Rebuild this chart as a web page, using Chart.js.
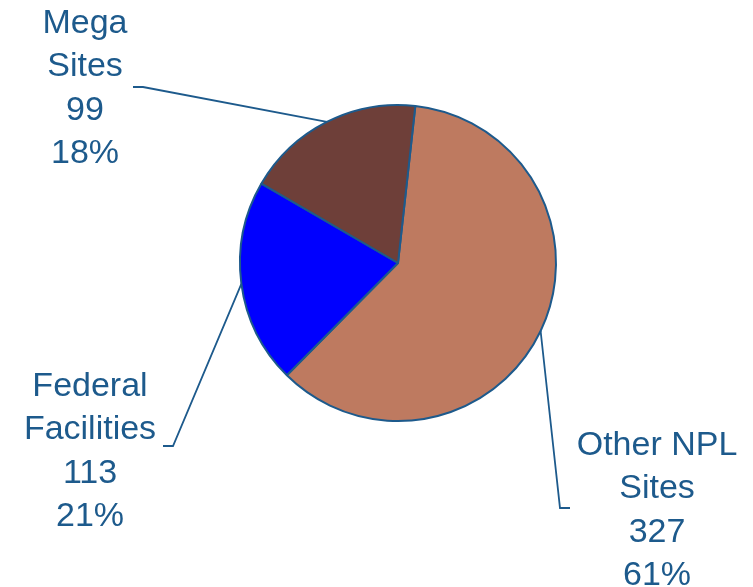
<!DOCTYPE html>
<html>
<head>
<meta charset="utf-8">
<script src="https://cdn.jsdelivr.net/npm/chart.js@4.4.0/dist/chart.umd.min.js"></script>
<style>
html,body{margin:0;padding:0;background:#fff;}
#wrap{position:relative;width:753px;height:587px;}
</style>
</head>
<body>
<div id="wrap"><canvas id="c" width="753" height="587"></canvas></div>
<script>
const categories = [["Other NPL","Sites"],["Federal","Facilities"],["Mega","Sites"]];
const siteCounts = [327, 113, 99];
const sliceColors = ["#BE7A60", "#0000FF", "#6E3F39"];

const textColor = "#1D5A8C";
// label layout: elbow point, horizontal end, text centre x, first baseline y
const labelLayout = [
  {elbow:[560,508], end:[570,508], tx:657, ty:455},
  {elbow:[173,446], end:[163,446], tx:90, ty:396},
  {elbow:[143,87],  end:[133,87],  tx:85, ty:33}
];

const total = siteCounts.reduce((a,b)=>a+b,0);

const labelPlugin = {
  id:'leaderLabels',
  afterDraw(chart){
    const ctx = chart.ctx;
    const meta = chart.getDatasetMeta(0);
    ctx.save();
    meta.data.forEach((arc,i)=>{
      const p = arc.getProps(['x','y','startAngle','endAngle','outerRadius'], true);
      const mid = (p.startAngle + p.endAngle)/2;
      const ax = p.x + Math.cos(mid)*p.outerRadius;
      const ay = p.y + Math.sin(mid)*p.outerRadius;
      const L = labelLayout[i];
      ctx.strokeStyle = textColor;
      ctx.lineWidth = 1.8;
      ctx.beginPath();
      ctx.moveTo(ax,ay);
      ctx.lineTo(L.elbow[0],L.elbow[1]);
      ctx.lineTo(L.end[0],L.end[1]);
      ctx.stroke();
      const pct = Math.round(siteCounts[i]/total*100) + '%';
      const lines = categories[i].concat([String(siteCounts[i]), pct]);
      ctx.fillStyle = textColor;
      ctx.font = '34px "Liberation Sans", Arial, sans-serif';
      ctx.textAlign = 'center';
      ctx.textBaseline = 'alphabetic';
      lines.forEach((t,k)=>{
        ctx.fillText(t, L.tx, L.ty + k*43.4);
      });
    });
    ctx.restore();
  }
};

new Chart(document.getElementById('c'), {
  type:'pie',
  data:{
    labels: categories.map(c=>c.join(' ')),
    datasets:[{
      data: siteCounts,
      backgroundColor: sliceColors,
      borderColor: textColor,
      borderWidth: 2
    }]
  },
  options:{
    responsive:false,
    animation:false,
    rotation: 6.3,
    layout:{padding:{left:239, right:196, top:104, bottom:165}},
    plugins:{legend:{display:false}, tooltip:{enabled:false}}
  },
  plugins:[labelPlugin]
});
</script>
</body>
</html>
